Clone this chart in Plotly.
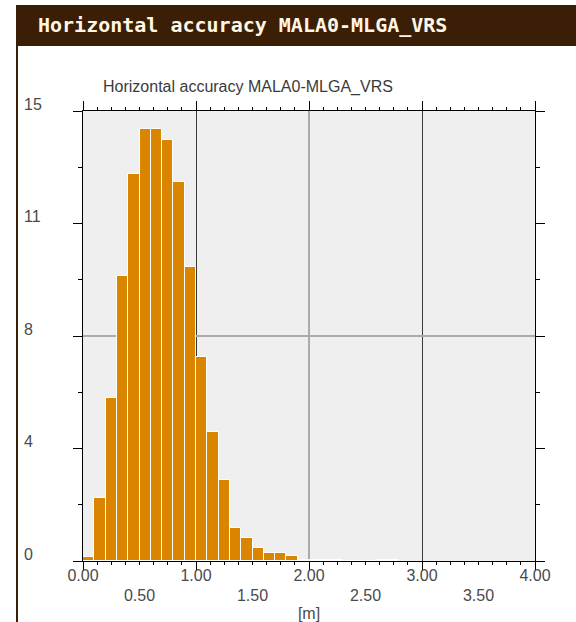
import plotly.graph_objects as go

# ---------------- data ----------------
BIN_START = [0.0, 0.1, 0.2, 0.3, 0.4, 0.5, 0.6, 0.7, 0.8, 0.9,
             1.0, 1.1, 1.2, 1.3, 1.4, 1.5, 1.6, 1.7, 1.8, 1.9,
             2.0, 2.1, 2.2, 2.3, 2.4, 2.5, 2.6, 2.7]
COUNTS = [0.15, 2.1, 5.45, 9.5, 12.9, 14.4, 14.4, 14.05, 12.65, 9.8,
          6.8, 4.3, 2.7, 1.09, 0.76, 0.42, 0.26, 0.26, 0.18, 0.03,
          0.03, 0.03, 0.03, 0.0, 0.0, 0.0, 0.03, 0.03]
BIN_WIDTH = 0.1

X_MAJOR = [0, 1, 2, 3, 4]
X_MAJOR_TEXT = ["0.00", "1.00", "2.00", "3.00", "4.00"]
X_HALF = [0.5, 1.5, 2.5, 3.5]
X_HALF_TEXT = ["0.50", "1.50", "2.50", "3.50"]
X_GRAY_GRID = [2]

Y_TICKS = [0, 3.75, 7.5, 11.25, 15]
Y_TICKTEXT = ["0", "4", "8", "11", "15"]
Y_GRAY_GRID = [7.5]

HEADER = "Horizontal accuracy MALA0-MLGA_VRS"
TITLE = "Horizontal accuracy MALA0-MLGA_VRS"
X_TITLE = "[m]"

# ---------------- layout helpers ----------------
W, H = 576, 622
def px(x):
    return x / W
def py(y):
    return 1 - y / H

XDOM = [px(83), px(535)]
YDOM = [py(561), py(111)]
FONT = "Liberation Sans, Arial, sans-serif"
TXT = "#4a4a4a"
BROWN = "#3a1f06"
FS = 16

fig = go.Figure()
fig.add_trace(go.Bar(
    x=BIN_START, y=COUNTS, width=BIN_WIDTH, offset=0,
    marker=dict(color="#d98500", line=dict(color="white", width=1)),
    xaxis="x", yaxis="y", showlegend=False, hoverinfo="x+y",
))
fig.add_trace(go.Scatter(x=[], y=[], xaxis="x2", yaxis="y2", showlegend=False))
fig.add_trace(go.Scatter(x=[], y=[], xaxis="x3", yaxis="y3", showlegend=False))

fig.update_layout(
    width=W, height=H, autosize=False,
    margin=dict(l=0, r=0, t=0, b=0, pad=0, autoexpand=False),
    paper_bgcolor="white", plot_bgcolor="#efefef",
    font=dict(family=FONT, size=FS, color=TXT),
    bargap=0,
    xaxis=dict(
        domain=XDOM, range=[0, 4], anchor="y", automargin=False,
        tickmode="array", tickvals=X_MAJOR, ticktext=X_MAJOR_TEXT,
        ticks="outside", ticklen=9, tickcolor="black", tickwidth=1,
        ticklabelstandoff=-9,
        minor=dict(dtick=0.125, tick0=0, ticks="outside", ticklen=3,
                   tickcolor="black", showgrid=False),
        showline=True, linecolor="black", linewidth=1, mirror="ticks",
        showgrid=True, gridcolor="#3a3a3a", gridwidth=1, zeroline=False,
        tickfont=dict(size=FS, color=TXT),
        title=dict(text=X_TITLE, font=dict(size=FS, color=TXT), standoff=30),
    ),
    xaxis2=dict(
        overlaying="x", anchor="y", side="bottom", range=[0, 4], automargin=False,
        tickmode="array", tickvals=X_HALF, ticktext=X_HALF_TEXT,
        ticks="", ticklabelstandoff=23, showgrid=False, showline=False,
        zeroline=False, tickfont=dict(size=FS, color=TXT),
    ),
    xaxis3=dict(
        overlaying="x", anchor="y3", range=[0, 4], automargin=False,
        tickmode="array", tickvals=X_GRAY_GRID, showticklabels=False,
        ticks="", showgrid=True, gridcolor="#ababab", gridwidth=2,
        showline=False, zeroline=False,
    ),
    yaxis=dict(
        domain=YDOM, range=[0, 15], anchor="x", automargin=False,
        tickmode="array", tickvals=Y_TICKS, showticklabels=False,
        ticks="outside", ticklen=9, tickcolor="black",
        minor=dict(dtick=1.875, tick0=0, ticks="outside", ticklen=4,
                   tickcolor="black", showgrid=False),
        showline=True, linecolor="black", linewidth=1, mirror="ticks",
        showgrid=False, zeroline=False,
    ),
    yaxis2=dict(
        overlaying="y", anchor="free", position=px(20), side="left",
        automargin=False,
        range=[0, 15], tickmode="array", tickvals=Y_TICKS, ticktext=Y_TICKTEXT,
        ticklabelposition="inside", ticklabeloverflow="allow",
        ticklabelshift=-7, ticks="",
        showgrid=False, showline=False, zeroline=False,
        tickfont=dict(size=FS, color=TXT),
    ),
    yaxis3=dict(
        overlaying="y", anchor="x3", range=[0, 15], automargin=False,
        tickmode="array", tickvals=Y_GRAY_GRID, showticklabels=False,
        ticks="", showgrid=True, gridcolor="#ababab", gridwidth=2,
        showline=False, zeroline=False,
    ),
    shapes=[
        dict(type="rect", xref="paper", yref="paper",
             x0=px(16), x1=1, y0=py(46), y1=py(5),
             fillcolor=BROWN, line=dict(width=0), layer="below"),
        dict(type="line", xref="paper", yref="paper",
             x0=px(17), x1=px(17), y0=0, y1=py(45),
             line=dict(color=BROWN, width=2), layer="below"),
    ],
    annotations=[
        dict(text="<b>" + HEADER + "</b>", xref="paper", yref="paper",
             x=px(36), y=py(25), xanchor="left", yanchor="middle",
             showarrow=False,
             font=dict(family="DejaVu Sans Mono, monospace", size=20, color="#fff6e6")),
        dict(text=TITLE, xref="paper", yref="paper",
             x=px(248), y=py(87), xanchor="center", yanchor="middle",
             showarrow=False, font=dict(size=FS, color="#3a3a3a")),
    ],
)

fig.write_html(
    "out.html",
    config={"displayModeBar": False},
    post_script="document.body.style.margin='0px';document.body.style.overflow='hidden';",
)
